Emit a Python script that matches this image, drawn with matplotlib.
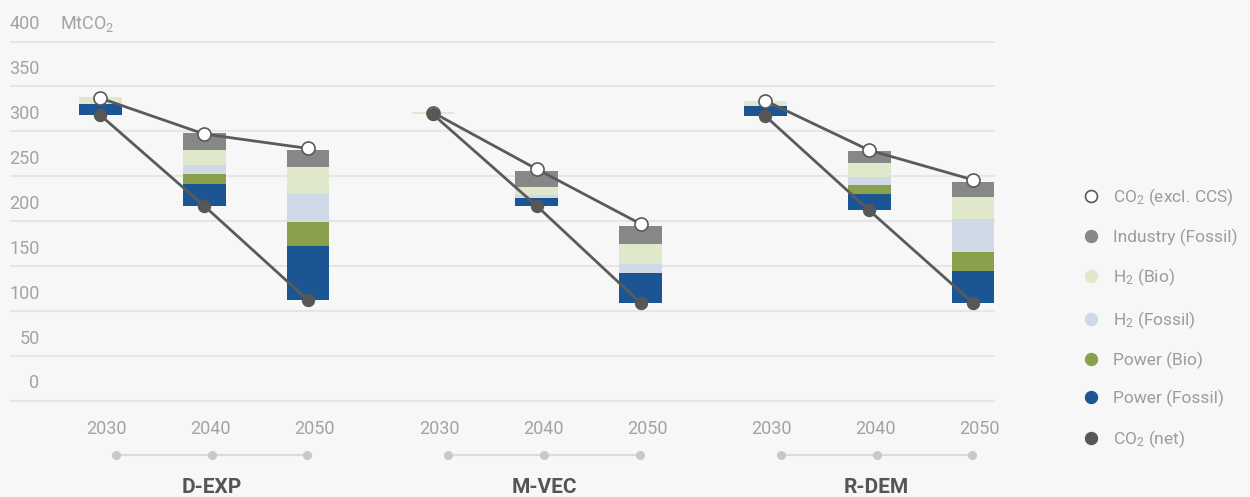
import matplotlib
matplotlib.use("Agg")
import matplotlib.pyplot as plt
import matplotlib.transforms as mtransforms
from matplotlib.lines import Line2D
import numpy as np

plt.rcParams['font.family'] = ['Roboto', 'DejaVu Sans']
plt.rcParams['mathtext.default'] = 'regular'

scenarios = ["D-EXP", "M-VEC", "R-DEM"]
years = ["2030", "2040", "2050"]

# values per scenario/year, order: D-EXP 2030..2050, M-VEC ..., R-DEM ...
co2_net = [318, 217, 112, 319, 217, 109, 317, 212, 109]
co2_excl = [337, 297, 281, 321, 258, 197, 334, 279, 246]
power_fossil = [12, 24, 61, 0, 9, 33, 11, 18, 36]
power_bio = [0, 12, 26, 0, 0, 0, 0, 10, 21]
h2_fossil = [0, 10, 31, 0, 3, 10, 0, 9, 36]
h2_bio = [8, 16, 30, 3, 9, 23, 6, 16, 25]
industry_fossil = [0, 19, 19, 0, 18, 20, 0, 13, 17]

components = [
    ("Power (Fossil)", power_fossil, "#1b5593"),
    ("Power (Bio)", power_bio, "#8aa04b"),
    ("H$_2$ (Fossil)", h2_fossil, "#d0dae6"),
    ("H$_2$ (Bio)", h2_bio, "#dfe8cb"),
    ("Industry (Fossil)", industry_fossil, "#878787"),
]

bg = "#f7f7f7"
grey_txt = "#a3a3a3"
line_col = "#5a5a5a"

fig = plt.figure(figsize=(12.5, 4.97), dpi=100, facecolor=bg)
ax = fig.add_axes([11 / 1250, 96 / 497, 983 / 1250, 359.5 / 497])
ax.set_facecolor(bg)

group_gap = 3.2
pos = np.array([g * group_gap + i for g in range(len(scenarios)) for i in range(len(years))])

bottom = np.array(co2_net, dtype=float)
for name, vals, col in components:
    ax.bar(pos, vals, width=0.41, bottom=bottom, color=col, zorder=2)
    bottom += np.array(vals)

for g in range(len(scenarios)):
    s = slice(g * 3, g * 3 + 3)
    ax.plot(pos[s], co2_excl[s], color=line_col, lw=2, zorder=3,
            marker="o", ms=9.4, mfc="white", mec=line_col, mew=1.2)
for g in range(len(scenarios)):
    s = slice(g * 3, g * 3 + 3)
    ax.plot(pos[s], co2_net[s], color=line_col, lw=2, zorder=4,
            marker="o", ms=8.6, mfc="#575757", mec="#575757")

ax.set_xlim(-0.86, 8.6)
ax.set_ylim(0, 400)
yticks = np.arange(0, 401, 50)
ax.set_yticks(yticks)
ax.set_yticklabels([])
ax.tick_params(axis="y", length=0)
ax.grid(axis="y", color="#e6e6e6", lw=1.5, zorder=0)
for gl in ax.get_ygridlines():
    gl.set_clip_on(False)
for sp in ax.spines.values():
    sp.set_visible(False)

# y labels sit above their gridlines
lab_tr = mtransforms.offset_copy(ax.get_yaxis_transform(), fig=fig, x=0, y=12.6, units="points")
for v in yticks:
    ax.text(0.029, v, str(v), transform=lab_tr, ha="right", va="center",
            fontsize=13, color=grey_txt)
ax.text(0.05, 400, "MtCO$_2$", transform=lab_tr, ha="left", va="center",
        fontsize=13, color=grey_txt)

# year labels
ax.set_xticks(pos + 0.06)
ax.set_xticklabels(years * len(scenarios), fontsize=13, color=grey_txt)
ax.tick_params(axis="x", length=0, pad=14)

# timeline under years and scenario names
xtr = ax.get_xaxis_transform()
for g, name in enumerate(scenarios):
    c = pos[g * 3 + 1] + 0.07
    tx = [c - 0.92, c, c + 0.92]
    ax.plot(tx, [-0.15] * 3, color="#dcdcdc", lw=1.5, transform=xtr, clip_on=False, zorder=1)
    ax.plot(tx, [-0.15] * 3, "o", color="#c8c8c8", ms=5.5, transform=xtr, clip_on=False, zorder=2)
    ax.text(c, -0.2406, name, transform=xtr, ha="center", va="center",
            fontsize=15, fontweight="bold", color="#555555")

handles = [Line2D([], [], ls="none", marker="o", ms=8.6, mfc="white", mec=line_col, mew=1.2,
                  label="CO$_2$ (excl. CCS)")]
for name, vals, col in components[::-1]:
    handles.append(Line2D([], [], ls="none", marker="o", ms=8.6, mfc=col, mec=col, label=name))
handles.append(Line2D([], [], ls="none", marker="o", ms=8.6, mfc="#575757", mec="#575757",
                      label="CO$_2$ (net)"))
leg = fig.legend(handles=handles, loc="upper left", bbox_to_anchor=(1081 / 1250, 1 - 186 / 497),
                 frameon=False, fontsize=12.5, handlelength=1.1, handletextpad=0.75,
                 labelspacing=1.2, borderpad=0, borderaxespad=0)
for t in leg.get_texts():
    t.set_color("#9c9c9c")

fig.savefig("out.png", dpi=100, facecolor=bg)
